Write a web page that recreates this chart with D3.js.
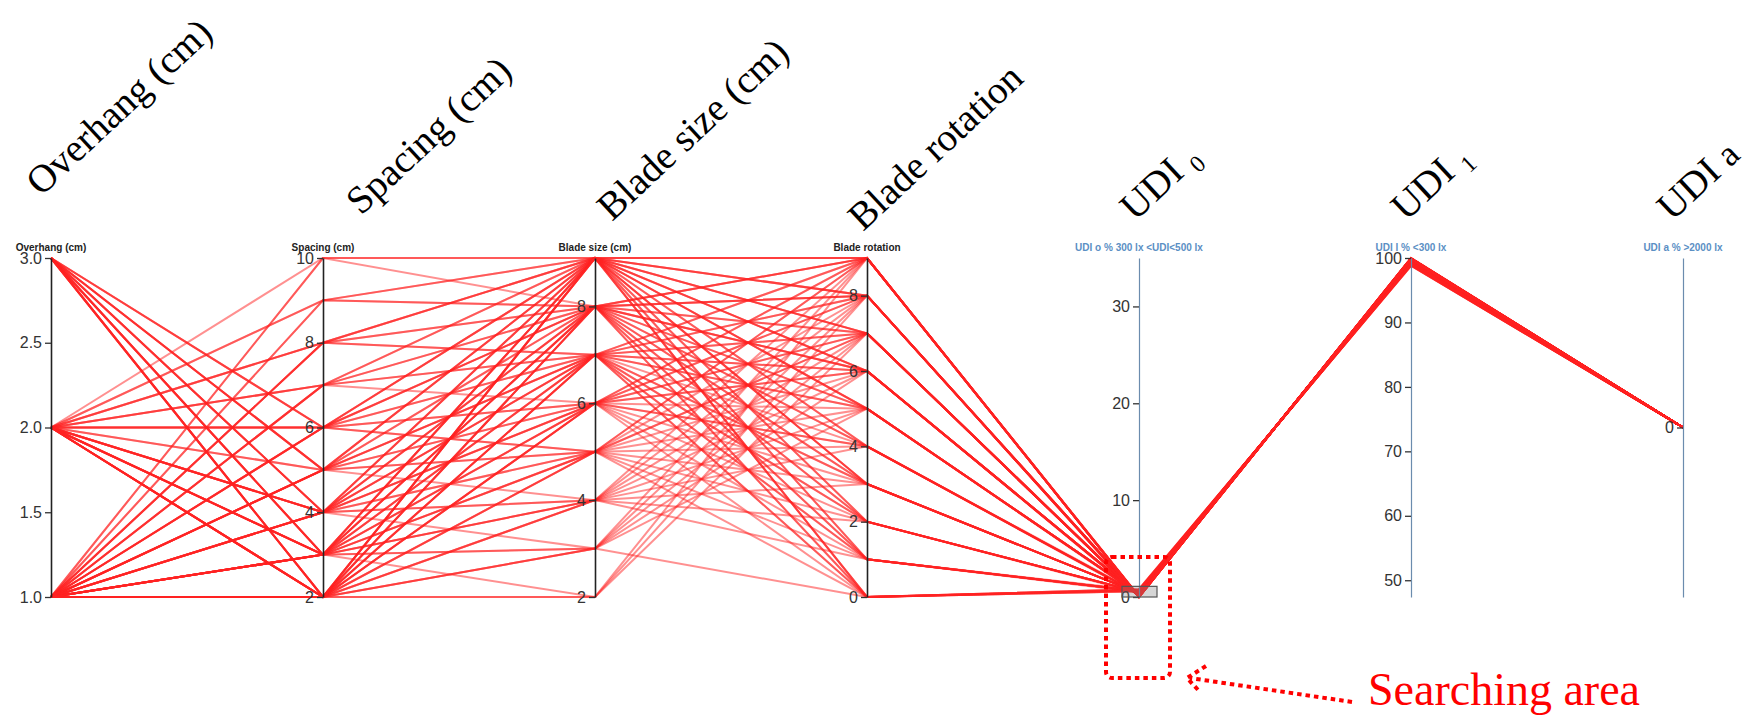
<!DOCTYPE html>
<html>
<head>
<meta charset="utf-8">
<script src="https://cdn.jsdelivr.net/npm/d3@7"></script>
<style>
  body { margin: 0; background: #fff; }
  svg { display: block; }
</style>
</head>
<body>
<svg id="chart" width="1754" height="719"></svg>
<script>
// Dimensions of the parallel-coordinates plot, in axis order
const dimensions = ["overhang", "spacing", "bladeSize", "bladeRotation", "udiO", "udiL", "udiA"];

// Small header label drawn above each axis
const headerLabels = [
  "Overhang (cm)", "Spacing (cm)", "Blade size (cm)", "Blade rotation",
  "UDI o % 300 lx <UDI<500 lx", "UDI l % <300 lx", "UDI a % >2000 lx"
];

// Large rotated titles (main text + subscript part)
const titleMain = ["Overhang (cm)", "Spacing (cm)", "Blade size (cm)", "Blade rotation", "UDI", "UDI", "UDI"];
const titleSub  = ["", "", "", "", "0", "1", "a"];

// Value extent of every axis (full data set extent)
const axisDomains = [[1, 3], [2, 10], [2, 9], [0, 9], [0, 35], [47.4, 100], [0, 0]];

// Output (simulation result) axes are styled in blue
const isOutput = [false, false, false, false, true, true, true];

// Brushed interval on the UDI o axis
const brushExtent = [0, 1.1];

// Design samples inside the brushed interval:
// [overhang, spacing, blade size, blade rotation, UDI o, UDI l, UDI a]
const samples = [
  [2,10,9,9, 0.1, 99.8, 0], [1,10,9,0, 0.6, 99.1, 0], [1,9,9,8, 0.0, 99.9, 0], [2,9,9,3, 0.4, 99.4, 0],
  [1,8,9,7, 0.1, 99.8, 0], [2,8,9,5, 0.3, 99.6, 0], [1,8,9,1, 0.7, 98.9, 0], [2,7,9,6, 0.2, 99.7, 0],
  [1,7,9,2, 0.5, 99.3, 0], [3,6,9,9, 0.0, 100, 0], [2,6,9,4, 0.3, 99.5, 0], [1,6,9,0, 0.8, 98.8, 0],
  [3,5,9,8, 0.0, 99.9, 0], [1,5,9,5, 0.2, 99.6, 0], [3,4,9,7, 0.1, 99.9, 0], [2,4,9,1, 0.5, 99.2, 0],
  [1,4,9,3, 0.4, 99.5, 0], [3,3,9,6, 0.1, 99.8, 0], [2,3,9,2, 0.4, 99.4, 0], [1,3,9,9, 0.0, 100, 0],
  [3,2,9,4, 0.2, 99.7, 0], [2,2,9,0, 0.6, 99.0, 0], [1,2,9,8, 0.0, 99.9, 0], [1,2,9,6, 0.1, 99.8, 0],
  [1,3,9,5, 0.3, 99.6, 0], [2,2,9,7, 0.1, 99.8, 0], [1,5,9,3, 0.4, 99.4, 0],

  [1,10,8,4, 0.3, 99.5, 0], [1,9,8,9, 0.0, 99.9, 0], [2,9,8,6, 0.2, 99.7, 0], [2,8,8,8, 0.1, 99.8, 0],
  [1,8,8,3, 0.4, 99.4, 0], [1,7,8,5, 0.3, 99.6, 0], [2,7,8,1, 0.6, 99.1, 0], [2,6,8,7, 0.1, 99.8, 0],
  [3,6,8,2, 0.5, 99.3, 0], [1,6,8,0, 0.7, 98.9, 0], [3,5,8,9, 0.0, 100, 0], [1,5,8,6, 0.2, 99.7, 0],
  [2,4,8,5, 0.3, 99.6, 0], [1,4,8,8, 0.0, 99.9, 0], [3,4,8,0, 0.6, 99.0, 0], [1,3,8,2, 0.5, 99.3, 0],
  [3,3,8,7, 0.1, 99.8, 0], [2,3,8,4, 0.3, 99.5, 0], [2,2,8,9, 0.0, 99.9, 0], [3,2,8,3, 0.4, 99.4, 0],
  [1,2,8,1, 0.6, 99.1, 0], [1,2,8,6, 0.2, 99.7, 0], [2,3,8,8, 0.1, 99.8, 0],

  [1,8,7,9, 0.1, 99.9, 0], [2,8,7,0, 0.7, 98.9, 0], [2,7,7,3, 0.4, 99.4, 0], [1,7,7,8, 0.1, 99.8, 0],
  [1,6,7,6, 0.2, 99.7, 0], [3,6,7,1, 0.6, 99.1, 0], [2,5,7,2, 0.5, 99.3, 0], [3,5,7,5, 0.3, 99.6, 0],
  [1,5,7,7, 0.1, 99.8, 0], [1,4,7,4, 0.3, 99.5, 0], [3,4,7,9, 0.0, 100, 0], [2,3,7,8, 0.0, 99.9, 0],
  [1,3,7,0, 0.8, 98.8, 0], [3,3,7,6, 0.2, 99.7, 0], [1,2,7,5, 0.3, 99.6, 0], [2,2,7,7, 0.1, 99.8, 0],
  [3,2,7,2, 0.5, 99.2, 0], [1,2,7,3, 0.4, 99.5, 0], [2,4,7,1, 0.6, 99.1, 0],

  [1,7,6,7, 0.2, 99.8, 0], [2,6,6,9, 0.0, 99.9, 0], [1,6,6,4, 0.4, 99.5, 0], [1,5,6,1, 0.6, 99.0, 0],
  [2,5,6,8, 0.1, 99.8, 0], [3,4,6,6, 0.2, 99.7, 0], [1,4,6,3, 0.4, 99.4, 0], [2,4,6,0, 0.7, 98.9, 0],
  [2,3,6,5, 0.3, 99.6, 0], [1,3,6,9, 0.0, 99.9, 0], [1,2,6,2, 0.5, 99.3, 0], [3,2,6,8, 0.1, 99.9, 0],
  [2,2,6,6, 0.2, 99.7, 0], [1,3,6,7, 0.1, 99.8, 0], [1,2,6,4, 0.3, 99.5, 0],

  [2,6,5,3, 0.4, 99.5, 0], [1,6,5,8, 0.1, 99.8, 0], [1,5,5,9, 0.0, 100, 0], [3,5,5,4, 0.3, 99.5, 0],
  [2,4,5,7, 0.2, 99.7, 0], [1,4,5,1, 0.6, 99.1, 0], [1,3,5,6, 0.2, 99.7, 0], [3,3,5,0, 0.8, 98.8, 0],
  [2,2,5,5, 0.3, 99.6, 0], [1,2,5,2, 0.5, 99.2, 0], [3,2,5,9, 0.0, 99.9, 0], [1,3,5,7, 0.1, 99.8, 0],

  [1,5,4,7, 0.1, 99.8, 0], [2,4,4,9, 0.0, 99.9, 0], [1,4,4,5, 0.3, 99.6, 0], [3,3,4,8, 0.1, 99.8, 0],
  [2,3,4,3, 0.4, 99.4, 0], [1,2,4,6, 0.2, 99.7, 0], [1,2,4,4, 0.3, 99.5, 0], [2,2,4,1, 0.6, 99.1, 0],
  [1,3,4,2, 0.5, 99.3, 0],

  [1,4,3,9, 0.0, 99.9, 0], [2,3,3,7, 0.1, 99.8, 0], [1,3,3,5, 0.3, 99.6, 0], [1,2,3,8, 0.1, 99.9, 0],
  [3,2,3,6, 0.2, 99.7, 0], [2,2,3,0, 0.7, 99.0, 0],

  [1,3,2,9, 0.0, 99.9, 0], [2,2,2,8, 0.1, 99.8, 0], [1,2,2,7, 0.1, 99.8, 0]
];

// ---------- layout ----------
const svg = d3.select("#chart");
const axisLeftX = 51, axisRightX = 1683;
const plotTop = 258, plotBottom = 597;

const x = d3.scalePoint().domain(dimensions).range([axisLeftX, axisRightX]);
const y = axisDomains.map(dom => d3.scaleLinear().domain(dom).range([plotBottom, plotTop]));

// ---------- polylines ----------
const line = d3.line();
svg.append("g")
  .attr("class", "foreground")
  .selectAll("path")
  .data(samples)
  .join("path")
  .attr("d", row => line(dimensions.map((d, i) => [x(d), y[i](row[i])])))
  .attr("fill", "none")
  .attr("stroke", "#ff2222")
  .attr("stroke-opacity", 0.5)
  .attr("stroke-width", 2);

// ---------- axes ----------
const axisG = svg.append("g").attr("class", "axes")
  .selectAll("g")
  .data(dimensions)
  .join("g")
  .attr("transform", d => `translate(${x(d)},0)`);

axisG.each(function (d, i) {
  const g = d3.select(this);
  g.call(d3.axisLeft(y[i]).ticks(4).tickSizeOuter(0));
  g.select(".domain")
    .attr("stroke", isOutput[i] ? "#6b8cae" : "#222")
    .attr("stroke-width", isOutput[i] ? 1.2 : 1.6);
  g.selectAll(".tick line").attr("stroke", "#333").attr("stroke-width", 1.3);
  g.selectAll(".tick text")
    .attr("fill", "#333")
    .attr("font-family", "'Liberation Sans Narrow', 'Arial Narrow', sans-serif")
    .attr("font-size", 16);
  g.append("text")
    .attr("x", 0)
    .attr("y", plotTop - 7)
    .attr("text-anchor", "middle")
    .attr("font-family", "'Liberation Sans', Arial, sans-serif")
    .attr("font-weight", "bold")
    .attr("font-size", 10)
    .attr("fill", isOutput[i] ? "#5b8fc4" : "#222")
    .text(headerLabels[i]);
});

// ---------- brush selection on UDI o ----------
const udiOIndex = dimensions.indexOf("udiO");
svg.append("rect")
  .attr("x", x("udiO") - 17)
  .attr("width", 35)
  .attr("y", y[udiOIndex](brushExtent[1]))
  .attr("height", y[udiOIndex](brushExtent[0]) - y[udiOIndex](brushExtent[1]))
  .attr("fill", "#777")
  .attr("fill-opacity", 0.3)
  .attr("stroke", "#555")
  .attr("stroke-width", 1.2);

// ---------- large rotated titles ----------
const titleAnchors = [[41, 197], [361, 216], [612, 222], [863, 232], [1135, 222], [1406, 222], [1672, 222]];
const titles = svg.append("g").attr("class", "titles")
  .selectAll("text")
  .data(titleMain)
  .join("text")
  .attr("transform", (d, i) => `translate(${titleAnchors[i][0]},${titleAnchors[i][1]}) rotate(-43)`)
  .attr("font-family", "'Liberation Serif', 'Times New Roman', serif")
  .attr("font-size", 39)
  .attr("fill", "#000");
titles.append("tspan").text(d => d);
titles.each(function (d, i) {
  if (!titleSub[i]) return;
  const isLetter = titleSub[i] === "a";
  d3.select(this).append("tspan")
    .attr("dx", 10)
    .attr("dy", isLetter ? 0 : 8)
    .attr("font-size", isLetter ? 36 : 24)
    .text(titleSub[i]);
});

// ---------- "Searching area" annotation ----------
const ann = svg.append("g").attr("class", "annotation")
  .attr("fill", "none").attr("stroke", "#ff0000").attr("stroke-width", 4)
  .attr("stroke-dasharray", "4.5,4");
ann.append("rect").attr("x", 1106).attr("y", 557).attr("width", 64).attr("height", 121).attr("rx", 6);
ann.append("line").attr("x1", 1352).attr("y1", 702).attr("x2", 1190).attr("y2", 678);
ann.append("path").attr("d", "M1206,666 L1187,678 L1200,692").attr("stroke-dasharray", null);
svg.append("text")
  .attr("x", 1368).attr("y", 705)
  .attr("font-family", "'Liberation Serif', 'Times New Roman', serif")
  .attr("font-size", 46)
  .attr("fill", "#ff0000")
  .text("Searching area");
</script>
</body>
</html>
